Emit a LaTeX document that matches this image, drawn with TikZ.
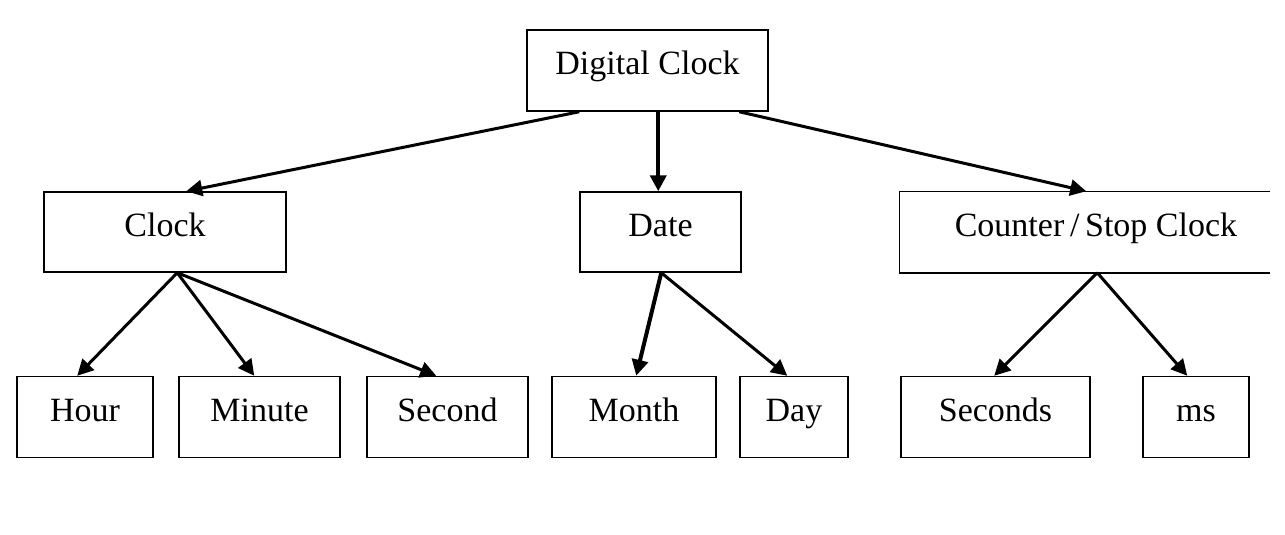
\documentclass[tikz,border=0pt]{standalone}
\usepackage{fontspec}
\setmainfont{Liberation Serif}
\usetikzlibrary{arrows.meta,calc}
\tikzset{
  box/.style={draw=black, line width=1.5pt, inner sep=0pt, minimum height=81pt,
    text height=24pt, text depth=16pt, font=\fontsize{34}{40}\selectfont},
  conn/.style={line width=3pt, -{Triangle[length=16pt,width=16pt]}},
  thickconn/.style={conn, line width=4pt}
}
\begin{document}
\begin{tikzpicture}[x=1pt,y=-1pt]
\useasboundingbox (0,0) rectangle (1285,535);
% top
\node[box, minimum width=241pt] (dc) at (647.5,70.5) {Digital Clock};
% middle
\node[box, minimum width=242pt, minimum height=80pt] (clock) at (165,232) {Clock};
\node[box, minimum width=161pt, minimum height=80pt] (date) at (660.5,232) {Date};
\node[box, draw=none, minimum width=392pt, minimum height=80pt] (ctr) at (1096,232) {Counter\,/\,Stop Clock};
\draw[line width=1.5pt] ($(ctr.north west)+(371,0)$) -- (ctr.north west) -- (ctr.south west) -- ($(ctr.south west)+(371,0)$);
% bottom
\node[box, minimum width=136pt] (hour) at (85,417) {Hour};
\node[box, minimum width=161pt] (minute) at (259.5,417) {Minute};
\node[box, minimum width=161pt] (second) at (447.5,417) {Second};
\node[box, minimum width=164pt] (month) at (634,417) {Month};
\node[box, minimum width=108pt] (day) at (794,417) {Day};
\node[box, minimum width=189pt] (seconds) at (995.5,417) {Seconds};
\node[box, minimum width=106pt] (ms) at (1196,417) {ms};
% connectors
\draw[conn] ($(dc.south west)+(53,0)$) -- ($(clock.north west)+(143,0)$);
\draw[thickconn] ($(dc.south west)+(132,0)$) -- ($(date.north west)+(79,0)$);
\draw[conn] ($(dc.south west)+(213,0)$) -- ($(ctr.north west)+(187,0)$);
\draw[conn] ($(clock.south west)+(134,0)$) -- ($(hour.north west)+(61,0)$);
\draw[conn] ($(clock.south west)+(134,0)$) -- ($(minute.north west)+(76,0)$);
\draw[conn] ($(clock.south west)+(134,0)$) -- ($(second.north west)+(70,0)$);
\draw[thickconn] ($(date.south west)+(82,0)$) -- ($(month.north west)+(85,0)$);
\draw[conn] ($(date.south west)+(82,0)$) -- ($(day.north west)+(48,0)$);
\draw[conn] ($(ctr.south west)+(198,0)$) -- ($(seconds.north west)+(94,0)$);
\draw[conn] ($(ctr.south west)+(198,0)$) -- ($(ms.north west)+(45,0)$);
\end{tikzpicture}
\end{document}
